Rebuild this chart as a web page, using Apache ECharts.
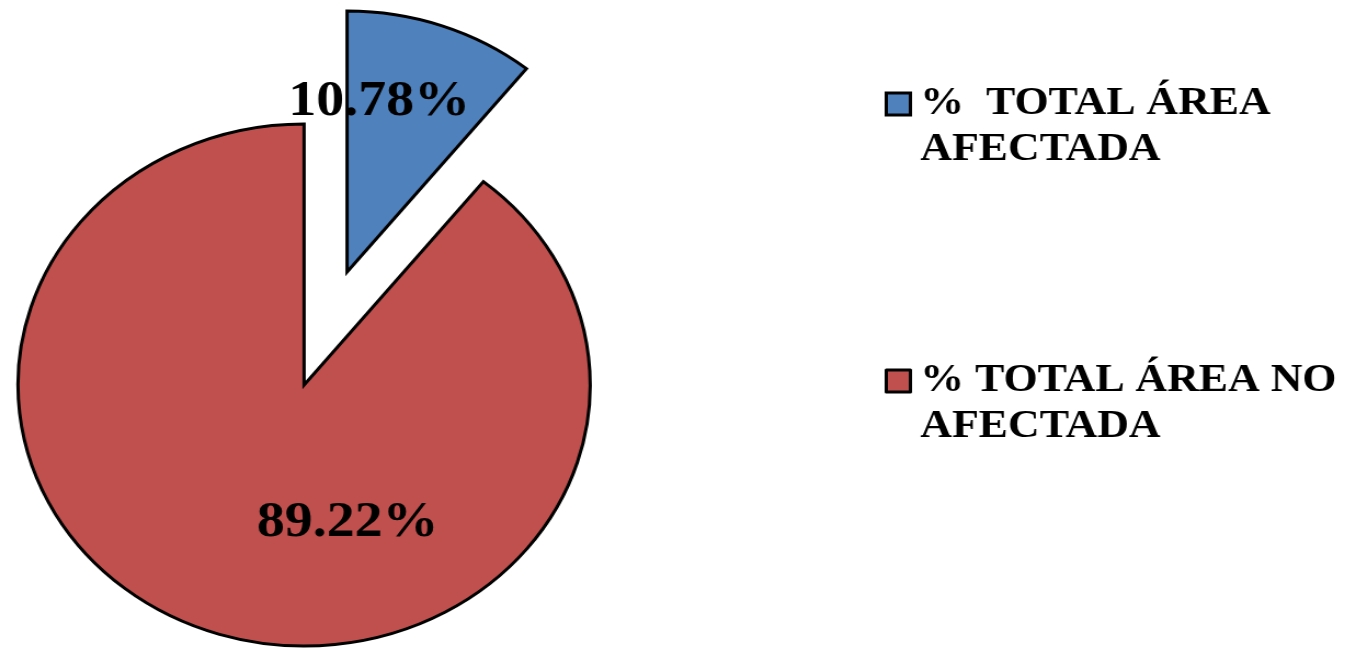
<!DOCTYPE html>
<html>
<head>
<meta charset="utf-8">
<script src="https://cdn.jsdelivr.net/npm/echarts@6/dist/echarts.min.js"></script>
<style>
html,body{margin:0;padding:0;background:#fff;overflow:hidden;}
#wrap{width:1356px;height:650px;overflow:hidden;}
#chart{width:1237px;height:650px;transform:scaleX(1.0962);transform-origin:0 0;}
</style>
</head>
<body>
<div id="wrap"><div id="chart"></div></div>
<script>
const categories = ['%  TOTAL ÁREA\nAFECTADA', '% TOTAL ÁREA NO\nAFECTADA'];
const values = [10.78, 89.22];
const colors = ['#4F81BD', '#C0504D'];

const FONT = '"Liberation Serif", "Times New Roman", serif';
const chart = echarts.init(document.getElementById('chart'), null, {renderer: 'canvas'});

function pieSeries(showIdx, center, offset) {
  return {
    type: 'pie',
    center: center,
    radius: 261,
    startAngle: 90,
    clockwise: true,
    silent: true,
    animation: false,
    emphasis: {disabled: true},
    labelLine: {show: false},
    data: categories.map((c, i) => ({
      name: c,
      value: values[i],
      itemStyle: i === showIdx
        ? {color: colors[i], borderColor: '#000', borderWidth: 3, borderJoin: 'miter'}
        : {color: 'rgba(0,0,0,0)', borderWidth: 0},
      label: i === showIdx
        ? {show: true, position: 'inside', offset: offset,
           formatter: p => p.value.toFixed(2) + '%',
           color: '#000', fontFamily: FONT, fontWeight: 'bold', fontSize: 51}
        : {show: false}
    }))
  };
}

function legendFor(i, top) {
  return {
    show: true,
    selectedMode: false,
    orient: 'vertical',
    left: 807,
    top: top,
    padding: 0,
    itemWidth: 22,
    itemHeight: 22,
    itemGap: 0,
    icon: 'rect',
    data: [{name: categories[i], itemStyle: {color: colors[i], borderColor: '#000', borderWidth: 3}}],
    formatter: name => '{s| }\n{a|' + name.split('\n').join('}\n{a|') + '}',
    textStyle: {
      color: '#000',
      rich: {
        s: {fontFamily: FONT, fontSize: 40, lineHeight: 46, height: 46},
        a: {fontFamily: FONT, fontWeight: 'bold', fontSize: 40, lineHeight: 46, color: '#000', padding: [0, 0, 0, 4]}
      }
    }
  };
}

chart.setOption({
  backgroundColor: '#fff',
  animation: false,
  legend: [legendFor(0, 35), legendFor(1, 312)],
  series: [
    pieSeries(0, [316.6, 272], [-15, -44]),
    pieSeries(1, [277.4, 385], [84, 12])
  ]
});
</script>
</body>
</html>
